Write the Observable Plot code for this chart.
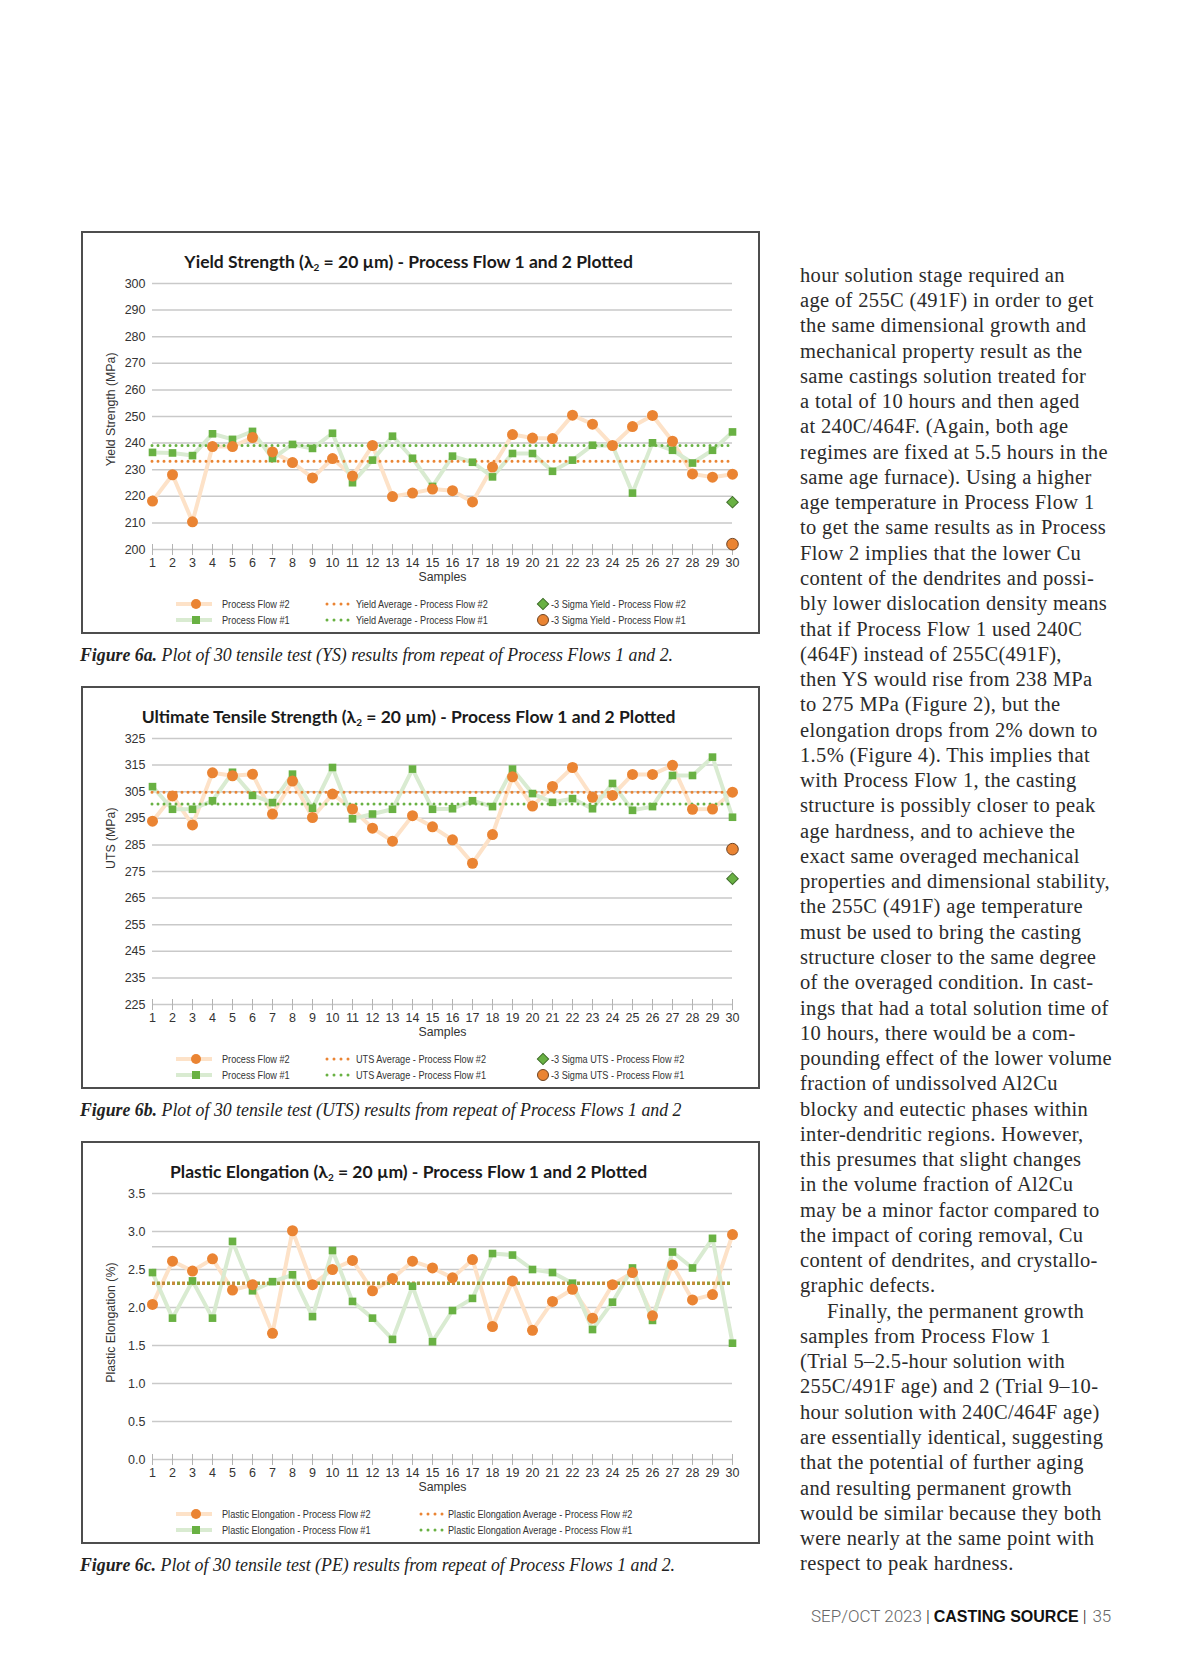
<!DOCTYPE html>
<html><head><meta charset="utf-8">
<script src="https://cdn.jsdelivr.net/npm/d3@7"></script>
<script src="https://cdn.jsdelivr.net/npm/@observablehq/plot@0.6"></script>
<style>
html,body{margin:0;padding:0;background:#fff;}
#page{position:relative;width:1200px;height:1680px;overflow:hidden;background:#fff;}
.box{position:absolute;left:81px;width:679px;height:403px;border:2px solid #4d4d4d;box-sizing:border-box;}
.title{position:absolute;transform:translate(-50%,-50%);font-family:Lato,"Open Sans",sans-serif;font-weight:700;font-size:17.5px;color:#1a1a1a;white-space:nowrap;}
.title sub{font-size:10px;vertical-align:-3px;line-height:0;}
.chart{position:absolute;left:81px;}
.leg{position:absolute;font-family:"Liberation Sans",Arial,sans-serif;font-size:11.3px;color:#333;white-space:nowrap;transform:translateY(-50%) scaleX(0.81);transform-origin:0 50%;}
.legsym{position:absolute;transform:translateY(-50%);}
.cap{position:absolute;left:80px;font-family:"Liberation Serif","Times New Roman",serif;font-style:italic;font-size:17.8px;color:#222;white-space:nowrap;transform:translateY(-50%);}
.cap b{font-weight:700;}
#body{position:absolute;left:800px;top:262.8px;font-family:"Liberation Serif","Times New Roman",serif;font-size:20.5px;letter-spacing:0.35px;line-height:25.27px;color:#2b2b2b;}
#body div{white-space:nowrap;height:25.27px;}
#footer{position:absolute;left:811px;top:1616px;transform:translateY(-50%);font-family:Roboto,"Liberation Sans",sans-serif;font-size:17px;color:#666;white-space:nowrap;}
#footer .bar{color:#222;margin:0 4px;font-weight:300;}
#footer b{font-family:"Liberation Sans",sans-serif;font-weight:700;color:#111;font-size:16px;}
#footer .lt{font-weight:300;}
#footer .num{font-weight:300;margin-left:2px;}
</style></head>
<body><div id="page"></div>
<script>
// ---------------- data ----------------
const samples = [1,2,3,4,5,6,7,8,9,10,11,12,13,14,15,16,17,18,19,20,21,22,23,24,25,26,27,28,29,30];

const ysTicks = [200,210,220,230,240,250,260,270,280,290,300];
const ysPF2 = [218.2,228.1,210.4,238.7,238.7,242.1,236.7,232.7,226.9,234.2,227.6,239.1,219.9,221.2,222.7,222.1,217.9,231.0,243.2,241.9,241.7,250.5,247.1,239.1,246.2,250.4,240.7,228.4,227.2,228.3];
const ysPF1 = [236.5,236.3,235.3,243.5,241.4,244.4,234.2,239.5,238.0,243.7,225.1,233.6,242.6,234.3,223.7,235.1,232.8,227.3,236.1,236.1,229.4,233.6,239.2,239.1,221.2,240.1,237.3,232.5,237.3,244.2];
const ysAvgPF2 = 233.2;
const ysAvgPF1 = 239.1;
const ysSigmaPF2 = 217.8;
const ysSigmaPF1 = 202.0;

const utsTicks = [225,235,245,255,265,275,285,295,305,315,325];
const utsPF2 = [293.9,303.4,292.5,312.1,311.0,311.6,296.6,309.0,295.3,304.1,298.5,291.3,286.4,296.0,291.8,286.9,278.1,288.9,310.6,299.6,307.0,314.1,302.9,303.6,311.5,311.5,314.9,298.4,298.5,304.8];
const utsPF1 = [306.9,298.4,298.4,301.6,312.3,303.6,300.9,311.6,298.8,314.1,294.8,296.6,298.4,313.5,298.4,298.6,301.6,299.4,313.5,304.3,301.0,302.4,298.6,308.1,298.0,299.4,311.1,311.1,318.0,295.4];
const utsAvgPF2 = 304.8;
const utsAvgPF1 = 300.4;
const utsSigmaPF2 = 272.3;
const utsSigmaPF1 = 283.4;

const peTicks = [0.0,0.5,1.0,1.5,2.0,2.5,3.0,3.5];
const peExtraGrid = [2.8];
const pePF2 = [2.04,2.61,2.48,2.64,2.23,2.30,1.66,3.01,2.30,2.50,2.62,2.22,2.38,2.61,2.52,2.39,2.63,1.75,2.35,1.70,2.08,2.24,1.86,2.30,2.46,1.89,2.56,2.10,2.17,2.96];
const pePF1 = [2.46,1.86,2.35,1.86,2.87,2.22,2.34,2.43,1.88,2.75,2.08,1.86,1.58,2.28,1.55,1.96,2.12,2.71,2.69,2.50,2.46,2.32,1.71,2.07,2.52,1.83,2.73,2.52,2.91,1.53];
const peAvgPF2 = 2.32;
const peAvgPF1 = 2.32;

const titles = [
  ["Yield Strength (λ", "2", " = 20 µm) - Process Flow 1 and 2 Plotted"],
  ["Ultimate Tensile Strength (λ", "2", " = 20 µm) - Process Flow 1 and 2 Plotted"],
  ["Plastic Elongation (λ", "2", " = 20 µm) - Process Flow 1 and 2 Plotted"]
];
const yLabels = ["Yield Strength (MPa)", "UTS (MPa)", "Plastic Elongation (%)"];
const xLabel = "Samples";
const legendYS = ["Process Flow #2","Process Flow #1","Yield Average - Process Flow #2","Yield Average - Process Flow #1","-3 Sigma Yield - Process Flow #2","-3 Sigma Yield - Process Flow #1"];
const legendUTS = ["Process Flow #2","Process Flow #1","UTS Average - Process Flow #2","UTS Average - Process Flow #1","-3 Sigma UTS - Process Flow #2","-3 Sigma UTS - Process Flow #1"];
const legendPE = ["Plastic Elongation - Process Flow #2","Plastic Elongation - Process Flow #1","Plastic Elongation Average - Process Flow #2","Plastic Elongation Average - Process Flow #1"];
const captions = [
  ["Figure 6a.", " Plot of 30 tensile test (YS) results from repeat of Process Flows 1 and 2."],
  ["Figure 6b.", " Plot of 30 tensile test (UTS) results from repeat of Process Flows 1 and 2"],
  ["Figure 6c.", " Plot of 30 tensile test (PE) results from repeat of Process Flows 1 and 2."]
];
const bodyLines = [
"hour solution stage required an",
"age of 255C (491F) in order to get",
"the same dimensional growth and",
"mechanical property result as the",
"same castings solution treated for",
"a total of 10 hours and then aged",
"at 240C/464F. (Again, both age",
"regimes are fixed at 5.5 hours in the",
"same age furnace). Using a higher",
"age temperature in Process Flow 1",
"to get the same results as in Process",
"Flow 2 implies that the lower Cu",
"content of the dendrites and possi-",
"bly lower dislocation density means",
"that if Process Flow 1 used 240C",
"(464F) instead of 255C(491F),",
"then YS would rise from 238 MPa",
"to 275 MPa (Figure 2), but the",
"elongation drops from 2% down to",
"1.5% (Figure 4). This implies that",
"with Process Flow 1, the casting",
"structure is possibly closer to peak",
"age hardness, and to achieve the",
"exact same overaged mechanical",
"properties and dimensional stability,",
"the 255C (491F) age temperature",
"must be used to bring the casting",
"structure closer to the same degree",
"of the overaged condition. In cast-",
"ings that had a total solution time of",
"10 hours, there would be a com-",
"pounding effect of the lower volume",
"fraction of undissolved Al2Cu",
"blocky and eutectic phases within",
"inter-dendritic regions. However,",
"this presumes that slight changes",
"in the volume fraction of Al2Cu",
"may be a minor factor compared to",
"the impact of coring removal, Cu",
"content of dendrites, and crystallo-",
"graphic defects.",
"\tFinally, the permanent growth",
"samples from Process Flow 1",
"(Trial 5–2.5-hour solution with",
"255C/491F age) and 2 (Trial 9–10-",
"hour solution with 240C/464F age)",
"are essentially identical, suggesting",
"that the potential of further aging",
"and resulting permanent growth",
"would be similar because they both",
"were nearly at the same point with",
"respect to peak hardness."
];
const footer = ["SEP/OCT 2023", "CASTING SOURCE", "35"];

// ---------------- styles ----------------
const ORANGE = "#ea8433", GREEN = "#69b143";
const ORANGE_LINE = "#fde2c8", GREEN_LINE = "#d9ebd1";
const page = document.getElementById("page");
const FONT = "'Liberation Sans',Arial,sans-serif";

function el(tag, cls, parent, html) { const e = document.createElement(tag); if (cls) e.className = cls; if (html != null) e.innerHTML = html; (parent||page).appendChild(e); return e; }

function symSVG(kind) {
  let s = "";
  if (kind === "lineCircle") s = `<svg width="38" height="12"><line x1="1" y1="6" x2="37" y2="6" stroke="${ORANGE_LINE}" stroke-width="4"/><circle cx="21" cy="6" r="5" fill="${ORANGE}"/></svg>`;
  if (kind === "lineSquare") s = `<svg width="38" height="12"><line x1="1" y1="6" x2="37" y2="6" stroke="${GREEN_LINE}" stroke-width="4"/><rect x="17" y="2" width="8" height="8" fill="${GREEN}"/></svg>`;
  if (kind === "dotsO") s = `<svg width="26" height="8"><line x1="2" y1="4" x2="24" y2="4" stroke="${ORANGE}" stroke-width="3" stroke-linecap="round" stroke-dasharray="0 7"/></svg>`;
  if (kind === "dotsG") s = `<svg width="26" height="8"><line x1="2" y1="4" x2="24" y2="4" stroke="${GREEN}" stroke-width="3" stroke-linecap="round" stroke-dasharray="0 7"/></svg>`;
  if (kind === "diamond") s = `<svg width="14" height="14"><rect x="3" y="3" width="8" height="8" transform="rotate(45 7 7)" fill="${GREEN}" stroke="#3f6d2a" stroke-width="1"/></svg>`;
  if (kind === "ring") s = `<svg width="14" height="14"><circle cx="7" cy="7" r="5.5" fill="${ORANGE}" stroke="#6e4322" stroke-width="1"/></svg>`;
  return s;
}

function makeChart(c) {
  const boxTop = c.boxTop;
  el("div", "box", page).style.top = boxTop + "px";
  const t = el("div", "title", page, `${c.title[0]}<sub>${c.title[1]}</sub>${c.title[2]}`);
  t.style.left = "408.6px"; t.style.top = (boxTop + 29.5) + "px";

  const pf2 = samples.map((s, i) => ({x: s, y: c.pf2[i]}));
  const pf1 = samples.map((s, i) => ({x: s, y: c.pf1[i]}));
  const last = samples[samples.length - 1];
  const avgMarks = c.overlapAvg ? [
      Plot.ruleY([c.avg2], {stroke: "#c98a3a", strokeWidth: 3.6, strokeDasharray: "3 7"}),
      Plot.ruleY([c.avg1], {stroke: "#92a03c", strokeWidth: 3.6, strokeDasharray: "3 7", strokeDashoffset: 5})
    ] : [
      Plot.ruleY([c.avg2], {stroke: ORANGE, strokeWidth: 3, strokeLinecap: "round", strokeDasharray: "0 6"}),
      Plot.ruleY([c.avg1], {stroke: GREEN, strokeWidth: 3, strokeLinecap: "round", strokeDasharray: "0 6"})
    ];
  const sigmaMarks = c.sigma2 == null ? [] : [
      Plot.dot([{x: last, y: c.sigma2}], {x: "x", y: "y", symbol: "square", rotate: 45, r: 4.6, fill: GREEN, stroke: "#3f6d2a", strokeWidth: 1}),
      Plot.dot([{x: last, y: c.sigma1}], {x: "x", y: "y", r: 5.8, fill: ORANGE, stroke: "#6e4322", strokeWidth: 1})
    ];
  const svg = Plot.plot({
    width: 679, height: 320,
    marginLeft: 71, marginRight: 28, marginTop: 12, marginBottom: 42,
    x: {domain: [samples[0], last]},
    y: {domain: [c.ticks[0], c.ticks[c.ticks.length - 1]]},
    style: {fontFamily: FONT, fontSize: "12.5px", color: "#333", background: "transparent", overflow: "visible"},
    marks: [
      Plot.ruleY(c.ticks.concat(c.extraGrid || []), {stroke: "#c9c9c9", strokeWidth: 1.5}),
      Plot.axisX({ticks: samples, tickSize: 11, dy: -5, tickFormat: () => "", stroke: "#b3b3b3", label: null}),
      Plot.axisX({ticks: samples, tickSize: 0, tickPadding: 9, label: null, fill: "#333"}),
      Plot.axisY({ticks: c.ticks, tickSize: 0, tickPadding: 7, label: null, fill: "#333", tickFormat: c.fmt}),
      Plot.text([c.yLabel], {frameAnchor: "left", dx: -41.7, dy: -64, rotate: -90, textAnchor: "end", text: d => d, fontSize: 12.3, fill: "#333"}),
      Plot.text([xLabel], {frameAnchor: "bottom", dy: 31, text: d => d, fontSize: 12.3, fill: "#333"}),
      Plot.line(pf2, {x: "x", y: "y", stroke: ORANGE_LINE, strokeWidth: 4}),
      Plot.line(pf1, {x: "x", y: "y", stroke: GREEN_LINE, strokeWidth: 4}),
      ...avgMarks,
      Plot.dot(pf1, {x: "x", y: "y", symbol: "square", r: 4.3, fill: GREEN}),
      Plot.dot(pf2, {x: "x", y: "y", r: 5.5, fill: ORANGE}),
      ...sigmaMarks
    ]
  });
  const holder = el("div", "chart", page);
  holder.style.top = (boxTop + 40) + "px";
  holder.appendChild(svg);

  // legend
  const rows = [boxTop + 373.3, boxTop + 389.3];
  const syms = ["lineCircle", "lineSquare", "dotsO", "dotsG", "diamond", "ring"];
  const symX = [175, 175, c.col2Sym, c.col2Sym, 536, 536];
  const txtX = [222, 222, c.col2Txt, c.col2Txt, 551, 551];
  c.legend.forEach((lab, i) => {
    const r = rows[i % 2];
    const s = el("div", "legsym", page, symSVG(syms[i]));
    s.style.left = symX[i] + "px"; s.style.top = r + "px"; s.style.height = "14px"; s.style.display = "flex"; s.style.alignItems = "center";
    const tx = el("div", "leg", page, lab);
    tx.style.left = txtX[i] + "px"; tx.style.top = r + "px";
  });

  const cap = el("div", "cap", page, `<b>${c.caption[0]}</b>${c.caption[1]}`);
  cap.style.top = (boxTop + 423.6) + "px";
}

makeChart({boxTop: 231, title: titles[0], yLabel: yLabels[0], ticks: ysTicks, pf2: ysPF2, pf1: ysPF1,
  avg2: ysAvgPF2, avg1: ysAvgPF1, sigma2: ysSigmaPF2, sigma1: ysSigmaPF1, legend: legendYS, caption: captions[0],
  col2Sym: 325, col2Txt: 356, fmt: d3.format("d")});
makeChart({boxTop: 686, title: titles[1], yLabel: yLabels[1], ticks: utsTicks, pf2: utsPF2, pf1: utsPF1,
  avg2: utsAvgPF2, avg1: utsAvgPF1, sigma2: utsSigmaPF2, sigma1: utsSigmaPF1, legend: legendUTS, caption: captions[1],
  col2Sym: 325, col2Txt: 356, fmt: d3.format("d")});
makeChart({boxTop: 1141, title: titles[2], yLabel: yLabels[2], ticks: peTicks, extraGrid: peExtraGrid, pf2: pePF2, pf1: pePF1,
  avg2: peAvgPF2, avg1: peAvgPF1, sigma2: null, legend: legendPE, caption: captions[2], overlapAvg: true,
  col2Sym: 419, col2Txt: 448, fmt: d3.format(".1f")});

// body text
const body = el("div", null, page); body.id = "body";
bodyLines.forEach(l => {
  const d = el("div", null, body);
  if (l.startsWith("\t")) { d.style.paddingLeft = "27px"; d.textContent = l.slice(1); } else d.textContent = l;
});

// footer
const f = el("div", null, page); f.id = "footer";
f.innerHTML = `<span class="lt">${footer[0]}</span><span class="bar">|</span><b>${footer[1]}</b><span class="bar">|</span><span class="num">${footer[2]}</span>`;
</script>
</body></html>
